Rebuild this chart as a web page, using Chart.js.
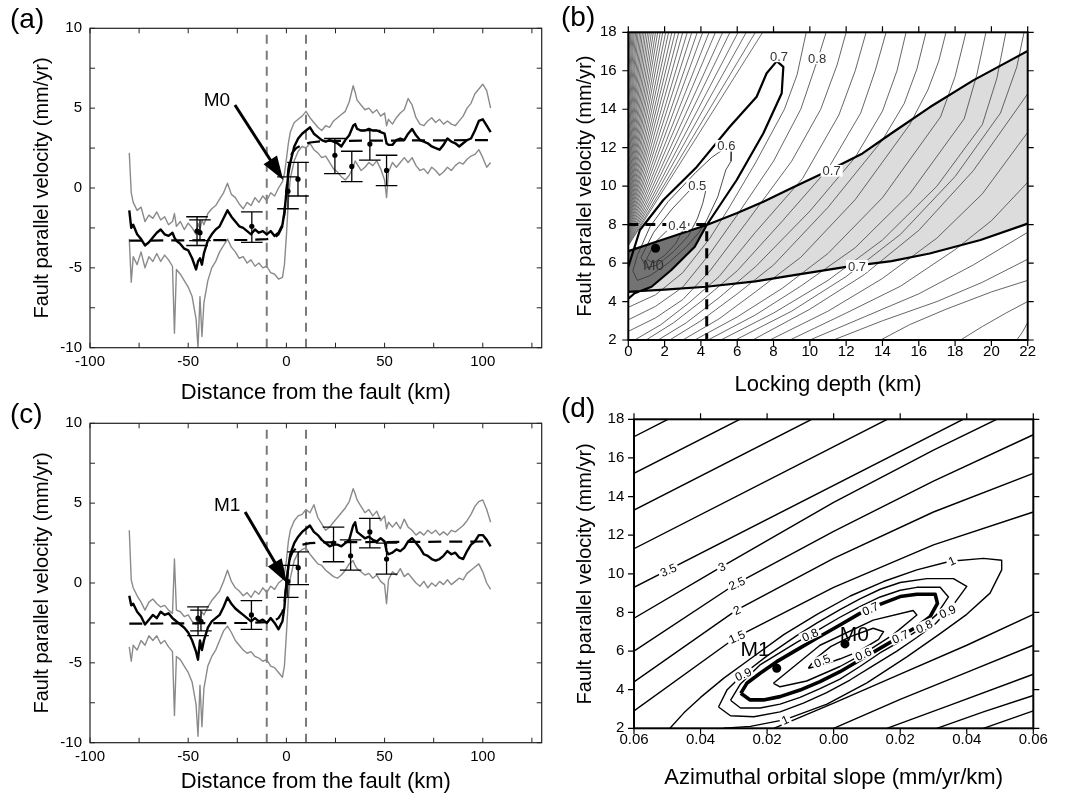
<!DOCTYPE html>
<html>
<head>
<meta charset="utf-8">
<title>Fault parallel velocity profiles and misfit contours</title>
<script src="https://cdn.jsdelivr.net/npm/chart.js@4.4.1/dist/chart.umd.min.js"></script>
<style>
  html,body{margin:0;padding:0;background:#fff;}
  body{position:relative;width:1070px;height:797px;overflow:hidden;font-family:"Liberation Sans",Arial,Helvetica,sans-serif;}
  canvas{position:absolute;display:block;}
  .plab{position:absolute;font-size:28px;line-height:28px;color:#000;white-space:nowrap;}
</style>
</head>
<body>
<canvas id="ca" width="560" height="410" style="left:0px;top:0px"></canvas>
<canvas id="cb" width="530" height="400" style="left:540px;top:0px"></canvas>
<canvas id="cc" width="560" height="402" style="left:0px;top:395px"></canvas>
<canvas id="cd" width="530" height="402" style="left:540px;top:395px"></canvas>
<div class="plab" style="left:10px;top:5px">(a)</div>
<div class="plab" style="left:561px;top:3px">(b)</div>
<div class="plab" style="left:10px;top:400px">(c)</div>
<div class="plab" style="left:561px;top:394px">(d)</div>
<script>
// ======================= DATA =======================
// ---- profiles (a) and (c): distance from fault (km) ----
const profileX = [-80,-79,-78,-76,-74,-72,-70,-68,-66,-64,-62,-60,-58,-57,-56,-54,-52,-50,-48,-46,-45,-44,-43,-42,
  -40,-38,-36,-34,-32,-30,-28,-26,-24,-22,-20,-18,-16,-14,-12,-10,-8,-6,-4,-2,-1,0,1,2,
  4,6,8,10,12,14,16,18,20,22,24,26,28,30,32,34,35,36,38,40,42,44,46,48,50,51,
  52,54,56,58,60,62,64,66,68,70,72,74,76,78,80,82,84,86,88,90,92,94,96,98,100,102,104];

const upperA = [2.2,-0.3,-0.9,-1.4,-1.2,-2.1,-1.7,-1.9,-1.5,-2.0,-1.8,-2.3,-2.1,-1.6,-2.4,-2.1,-2.6,-2.2,-2.5,-2.9,-2.2,-2.6,-2.0,-2.3,
  -1.6,-1.3,-1.1,-0.7,-0.3,0.3,-0.4,-0.6,-1.0,-1.3,-0.9,-1.1,-0.6,-0.9,-0.5,-0.8,-0.3,-0.5,0.0,0.4,0.9,1.8,2.8,3.5,
  4.1,4.3,4.5,4.8,4.4,4.1,3.8,3.6,3.9,3.8,4.2,4.4,4.6,4.8,5.4,6.4,6.0,5.5,5.2,4.9,5.0,4.7,4.9,4.5,4.7,3.9,
  4.3,4.0,4.4,4.7,4.9,5.6,5.2,4.4,4.0,3.9,4.2,4.4,4.1,4.3,4.0,4.2,4.0,3.9,4.2,4.5,5.0,5.3,5.9,6.2,6.5,6.1,5.0];
const lowerA = [-3.2,-5.9,-4.3,-4.8,-4.0,-5.0,-4.3,-4.6,-4.1,-4.6,-4.2,-4.5,-4.9,-9.1,-5.1,-5.4,-5.8,-6.2,-6.8,-8.2,-10.0,-6.8,-9.3,-7.2,
  -5.8,-5.0,-4.6,-4.0,-3.6,-3.2,-3.7,-4.0,-4.4,-4.3,-4.7,-4.5,-4.9,-4.7,-5.0,-4.9,-5.3,-5.4,-5.7,-5.6,-4.8,-3.0,-0.8,0.6,
  1.7,2.3,2.6,2.5,2.8,2.4,2.2,1.9,2.0,1.6,1.2,1.0,0.7,0.5,0.8,1.3,1.7,1.5,1.1,1.3,1.6,1.4,1.7,1.2,0.5,-0.6,
  1.0,1.6,1.3,1.6,1.9,1.6,1.9,1.4,1.1,1.2,0.9,1.3,1.1,0.8,1.0,1.3,1.1,1.4,1.6,1.5,1.8,2.0,2.1,2.4,1.9,1.3,1.6];
const meanA = [-1.4,-2.5,-2.3,-2.9,-3.2,-3.6,-3.4,-3.1,-2.8,-2.6,-2.9,-3.0,-2.8,-3.1,-3.3,-3.5,-3.8,-3.9,-4.4,-5.1,-4.6,-4.4,-4.8,-4.1,
  -3.3,-2.9,-2.6,-2.4,-1.9,-1.4,-1.8,-2.1,-2.4,-2.5,-2.7,-2.9,-2.6,-2.8,-2.7,-2.9,-2.7,-3.0,-2.8,-2.3,-1.5,-0.3,0.9,1.6,
  2.6,3.1,3.4,3.6,3.8,3.4,3.2,3.0,2.9,3.0,2.9,2.8,2.6,3.0,3.3,3.9,4.0,3.7,3.6,3.6,3.7,3.6,3.6,3.5,3.4,2.8,
  2.7,2.7,3.0,3.1,3.0,3.4,3.7,3.3,3.0,2.9,2.8,2.6,2.5,2.4,2.7,3.1,2.9,2.8,2.6,2.8,3.0,3.1,3.6,4.2,4.3,3.9,3.5];

const upperC = [3.3,0.2,-0.3,-0.8,-1.2,-1.7,-1.2,-1.0,-1.3,-1.5,-1.4,-1.7,-1.9,1.5,-1.7,-1.8,-2.1,-2.0,-2.4,-2.6,-2.1,-2.4,-1.8,-2.0,
  -1.5,-1.1,-0.8,-0.5,0.1,0.8,0.1,-0.3,-0.5,-0.8,-0.6,-0.9,-0.5,-0.7,-0.3,-0.6,-0.2,-0.4,0.0,0.2,0.6,1.4,2.6,3.3,
  3.9,4.2,4.3,4.6,4.4,4.9,4.1,3.7,3.3,3.5,3.8,4.1,4.4,4.7,5.1,5.9,5.6,5.2,4.8,4.4,4.6,4.2,4.5,3.9,4.2,3.4,
  3.8,3.5,3.8,3.4,4.0,3.5,3.3,3.0,3.2,3.0,3.3,3.1,3.3,3.0,3.2,3.0,3.3,3.2,3.4,3.6,3.9,4.3,4.8,5.1,5.2,4.6,3.8];
const lowerC = [-4.0,-4.9,-3.9,-4.2,-3.6,-3.9,-3.3,-3.6,-3.3,-3.8,-3.6,-4.0,-4.3,-8.3,-4.6,-4.8,-5.2,-5.6,-6.2,-7.6,-9.6,-6.4,-9.0,-6.6,
  -5.2,-4.6,-4.2,-3.6,-3.0,-2.7,-3.1,-3.6,-3.9,-4.2,-4.4,-4.3,-4.6,-4.7,-4.9,-4.8,-5.2,-5.3,-5.6,-5.9,-5.2,-3.2,-1.0,0.3,
  1.4,1.9,2.1,2.2,1.8,1.5,1.2,1.1,0.8,0.6,0.4,0.3,0.5,0.8,1.2,1.4,1.1,0.9,0.7,0.5,0.6,0.3,0.5,0.1,-0.1,-1.3,
  0.2,0.7,0.5,0.9,0.4,0.6,0.3,0.0,-0.2,0.1,-0.3,0.0,-0.2,0.1,-0.1,0.2,-0.1,0.1,0.3,0.2,0.6,0.8,1.0,1.2,0.7,0.0,-0.4];
const meanC = [-0.8,-1.4,-1.3,-1.8,-2.1,-2.6,-2.3,-2.0,-2.2,-1.8,-2.0,-1.9,-2.2,-2.3,-2.4,-2.6,-2.8,-3.1,-3.6,-4.3,-4.8,-3.6,-4.2,-3.6,
  -2.8,-2.4,-2.2,-2.0,-1.5,-0.9,-1.3,-1.6,-1.8,-2.0,-2.2,-2.4,-2.2,-2.4,-2.3,-2.5,-2.2,-2.5,-2.9,-2.4,-1.5,0.0,1.0,1.8,
  2.5,2.9,3.2,3.4,3.6,3.2,3.0,2.7,2.5,2.3,2.4,2.4,2.3,2.5,2.7,3.6,3.8,3.2,3.0,2.8,2.9,2.7,2.6,2.8,2.6,2.0,
  1.8,1.9,2.1,2.0,2.2,2.6,2.8,2.5,2.2,1.8,1.7,1.5,1.4,1.5,1.7,2.0,1.8,1.9,1.6,1.5,2.0,2.4,2.6,3.0,3.0,2.7,2.3];

// model curves (dashed)
const modelX = [-80,-20,-10,-6,-4,-2,-1,0,1,2,3,5,8,12,20,104];
const modelA = [-3.3,-3.25,-3.2,-3.1,-2.9,-2.4,-1.6,-0.2,1.2,1.9,2.2,2.5,2.7,2.85,2.95,3.0];
const modelC = [-2.55,-2.5,-2.45,-2.35,-2.2,-1.8,-1.2,0.0,1.1,1.6,1.9,2.2,2.4,2.5,2.55,2.6];

// GPS station values with error bars
const gpsXA  = [-45.5,-44,-17.6,0.8,5.9,24.7,33.3,42.5,51];
const gpsVA  = [-2.7,-2.8,-2.4,-0.2,0.55,2.05,1.35,2.75,1.1];
const gpsLoA = [-3.6,-3.3,-3.4,-1.3,-0.5,0.9,0.4,1.75,0.15];
const gpsHiA = [-1.8,-2.0,-1.5,0.7,1.6,3.1,2.3,3.6,2.05];
const gpsXC  = [-45,-43.5,-17.8,0.7,6,24,32.7,42.5,51];
const gpsVC  = [-2.2,-2.4,-2.0,0.1,0.96,2.5,1.7,3.2,1.5];
const gpsLoC = [-3.3,-3.0,-2.9,-0.9,-0.1,1.33,0.8,2.2,0.55];
const gpsHiC = [-1.5,-1.7,-1.1,1.1,1.95,3.5,2.7,4.05,2.5];

const faultZone = [-10, 10];
const arrowA = [-26.2, 5.2, -1.6, 0.5];
const arrowC = [-21.0, 4.45, 0.3, 0.0];

// ---- (b) locking depth (km) vs fault parallel velocity (mm/yr) ----
const bBoundUpper = [[0,6.62],[2,7.25],[4.32,7.98],[6,8.6],[7.44,9.19],[9,9.9],[11.1,10.84],[12.9,11.7],[14.5,12.75],[16.6,14.1],[19,15.5],[22,17.03]];
const bBoundLower = [[0,4.51],[2,4.62],[4.3,4.77],[7,5.05],[9.3,5.4],[12,5.8],[14.5,6.1],[16.6,6.5],[19.4,7.2],[22,8.05]];
const bLoop07 = [[0,5.8],[0.64,7.72],[1.93,9.28],[3.77,11.0],[5.6,13.1],[7.07,14.65],[7.62,15.87],[8.18,16.5],[8.54,16.2],[8.45,14.83],
  [7.44,12.75],[5.97,10.32],[4.87,8.76],[4.32,7.98],[3.66,6.85],[2.37,5.64],[1.28,4.77],[0.35,4.43],[0,4.15]];
const bLoop06 = [[0.5,6.4],[1.2,7.9],[2.2,9.2],[3.7,10.7],[4.6,11.5],[5.3,11.95],[5.7,11.9],[5.66,11.3],[5.37,10.84],[4.93,9.45],[4.3,8.2],
  [3.9,7.6],[3.2,6.85],[2.2,6.0],[1.2,5.35],[0.5,5.1],[0.25,5.6],[0.5,6.4]];
const bLoop05 = [[0.7,6.3],[1.4,7.6],[2.4,8.8],[3.4,9.8],[4.1,10.2],[4.3,9.9],[4.1,9.1],[3.8,8.3],[3.3,7.4],[2.5,6.6],[1.6,5.9],[1.0,5.75],[0.7,6.3]];
const bLoop04 = [[1.0,6.2],[1.5,7.1],[2.2,7.75],[2.9,8.05],[3.0,7.7],[2.6,7.0],[2.0,6.4],[1.4,6.0],[1.0,6.2]];
const bContours = [
  [[0,3.7],[1.5,4.35],[3.0,5.5],[4.5,7.3],[5.5,8.8],[7.0,11.2],[8.6,14.0],[9.3,15.8],[9.8,18]],
  [[0,3.05],[1.5,3.75],[3.0,4.75],[4.5,6.5],[6.0,8.5],[8.0,11.3],[9.5,14.0],[10.4,16.5],[10.9,18]],
  [[0,2.45],[1.5,3.15],[3.0,4.1],[4.5,5.6],[6.5,8.1],[9.0,11.3],[10.6,14.0],[11.5,16.3],[12.0,18]],
  [[0.35,2],[1.8,2.8],[3.3,3.9],[5.0,5.3],[7.0,7.6],[9.6,10.4],[11.6,13.7],[12.5,16.0],[13.1,18]],
  [[0.98,2],[2.5,2.9],[4.0,4.0],[6.0,5.6],[8.5,8.2],[11.0,10.9],[12.8,13.8],[13.6,16.0],[14.2,18]],
  [[1.64,2],[3.2,2.9],[5.0,4.2],[7.0,5.8],[10.0,8.7],[12.5,11.5],[14.0,13.9],[14.8,16.0],[15.3,18]],
  [[2.28,2],[4.0,3.0],[6.0,4.4],[8.0,5.9],[11.0,8.9],[14.0,12.4],[15.2,14.3],[15.9,16.1],[16.4,18]],
  [[3.0,2],[5.0,3.1],[7.0,4.5],[9.5,6.3],[12.5,9.3],[15.5,13.2],[16.5,15.0],[17.1,16.5],[17.5,18]],
  [[3.66,2],[6.0,3.2],[8.5,4.7],[11.0,6.5],[14.0,9.4],[17.2,13.6],[18.0,15.7],[18.6,18]],
  [[4.39,2],[7.0,3.3],[9.5,4.8],[12.5,6.8],[15.5,9.6],[18.5,13.5],[19.2,15.8],[19.7,18]],
  [[5.1,2],[8.0,3.4],[11.0,5.1],[14.0,7.2],[17.0,10.0],[19.5,13.2],[20.3,15.6],[20.8,18]],
  [[5.9,2],[9.0,3.5],[12.0,5.3],[15.0,7.5],[18.0,10.5],[20.5,13.8],[21.4,16.2],[21.8,18]],
  [[6.85,2],[10,3.6],[13,5.4],[16,7.7],[19,10.8],[22,14.8]],
  [[7.8,2],[11,3.5],[14,5.2],[17,7.3],[19.5,9.6],[22,12.8]],
  [[8.9,2],[12,3.4],[15,4.8],[18,6.7],[20,8.2],[22,10.2]],
  [[10,2],[13,3.2],[16,4.4],[19,5.9],[22,7.6]],
  [[11.3,2],[14,3.0],[17,4.0],[19.5,5.0],[22,6.2]],
  [[13.9,2],[15.5,2.8],[17.5,3.6],[20,4.5],[22,5.1]],
  [[18.3,2],[19.5,2.7],[20.8,3.4],[22,4.0]],
  [[21.4,2],[21.7,2.4],[22,2.9]]
];
// steep contours in the upper-left corner: crossing of the top edge (km) and of the left edge (mm/yr)
const bFanTop  = [7.4,7.0,6.5,6.05,5.6,5.2,4.8,4.45,4.1,3.8,3.5,3.25,3.0,2.78,2.58,2.4,2.22,2.06,1.9,1.76,
  1.62,1.5,1.38,1.27,1.16,1.06,0.96,0.87,0.78,0.7,0.62,0.54,0.47,0.4,0.33,0.27,0.21,0.15,0.1,0.05];
const bFanLeft = [6.9,6.94,7.0,7.05,7.12,7.19,7.27,7.35,7.44,7.53,7.63,7.73,7.84,7.96,8.07,8.19,8.33,8.46,8.62,8.77,
  8.94,9.11,9.3,9.5,9.72,9.95,10.21,10.47,10.78,11.09,11.44,11.85,12.26,12.73,13.29,13.84,14.5,15.27,16.03,16.92];
const bLimit = [4.32, 8.0];      // locking depth, velocity limits (dashed)
const bBest  = [1.5, 6.77];      // M0
const bLabels = [['0.7',8.3,16.75],['0.8',10.4,16.65],['0.6',5.4,12.1],['0.5',3.8,10.05],['0.4',2.7,7.98],['0.7',11.2,10.8],['0.7',12.6,5.85]];

// ---- (d) azimuthal orbital slope (mm/yr/km) vs fault parallel velocity ----
const dOuter = [
  [[-0.06,2.9],[-0.0291,6.74],[0.0,9.3],[0.03,11.5],[0.06,13.2]],
  [[-0.06,4.4],[-0.0291,8.13],[0.0,10.8],[0.03,13.2],[0.06,15.2]],
  [[-0.06,6.0],[-0.0291,9.51],[0.0,12.2],[0.03,14.8],[0.06,17.2]],
  [[-0.06,7.7],[-0.0336,10.37],[0.0,13.7],[0.03,16.4],[0.049,18]],
  [[-0.06,9.3],[0.0389,18]],
  [[-0.06,11.3],[0.0161,18]],
  [[-0.06,13.3],[-0.0066,18]],
  [[-0.06,15.2],[-0.0282,18]],
  [[-0.06,17.1],[-0.0498,18]],
  [[-0.018,2],[0.0,3.3],[0.02,4.8],[0.04,6.3],[0.06,7.9]],
  [[0.0,2],[0.02,3.5],[0.04,4.9],[0.06,6.3]],
  [[0.016,2],[0.035,3.2],[0.06,4.8]],
  [[0.031,2],[0.045,2.85],[0.06,3.7]],
  [[0.045,2],[0.06,2.9]]
];
const dLoop10 = [[-0.0492,2.0],[-0.045,2.8],[-0.04,3.6],[-0.033,4.6],[-0.025,5.6],[-0.015,6.85],[-0.005,7.9],[0.005,8.85],[0.015,9.6],
  [0.025,10.2],[0.035,10.65],[0.045,10.8],[0.0505,10.7],[0.0505,10.2],[0.047,9.0],[0.04,7.9],[0.032,6.9],[0.022,5.7],[0.01,4.35],
  [-0.002,3.25],[-0.0146,2.45],[-0.025,2.1],[-0.033,2.0]];
const dLoop09 = [[-0.0346,3.1],[-0.032,4.0],[-0.0272,4.8],[-0.02,5.75],[-0.0111,6.8],[-0.0051,7.45],[0.0019,8.15],[0.0079,8.7],[0.014,9.2],
  [0.02,9.55],[0.028,9.75],[0.036,9.75],[0.04,9.35],[0.036,8.4],[0.0305,7.4],[0.025,6.7],[0.019,6.0],[0.0119,5.25],[0.0049,4.5],
  [-0.0021,3.85],[-0.0091,3.3],[-0.0161,2.85],[-0.024,2.6],[-0.031,2.65],[-0.0346,3.1]];
const dLoop08 = [[-0.031,3.45],[-0.028,4.3],[-0.022,5.3],[-0.0111,6.45],[-0.0051,7.05],[0.0019,7.75],[0.0079,8.3],[0.014,8.8],[0.02,9.15],
  [0.025,9.3],[0.032,9.3],[0.0345,8.8],[0.031,7.9],[0.0265,7.2],[0.02,6.5],[0.0139,5.9],[0.0079,5.2],[0.0019,4.55],[-0.0041,4.05],
  [-0.0101,3.6],[-0.0161,3.25],[-0.0221,3.05],[-0.028,3.05],[-0.031,3.45]];
const dLoop07 = [[-0.0279,3.81],[-0.0261,4.33],[-0.0221,4.85],[-0.0171,5.45],[-0.0111,6.06],[-0.0051,6.66],[0.0019,7.35],[0.0079,7.95],
  [0.0139,8.42],[0.02,8.82],[0.025,8.94],[0.0305,8.94],[0.0312,8.47],[0.029,7.78],[0.025,7.26],[0.02,6.75],[0.0139,6.14],[0.0079,5.54],
  [0.0019,4.93],[-0.0041,4.42],[-0.0101,3.98],[-0.0161,3.64],[-0.0211,3.47],[-0.0251,3.47],[-0.0279,3.81]];
const dLoop06 = [[-0.0181,4.33],[-0.0041,6.3],[0.0119,7.6],[0.0239,8.1],[0.025,7.87],[0.0179,6.85],[0.0089,5.85],[0.0019,5.2],[-0.0081,4.45],[-0.0161,4.15],[-0.0181,4.33]];
const dLoop05 = [[-0.0076,5.11],[-0.0055,5.6],[-0.0009,6.23],[0.005,6.75],[0.0119,7.18],[0.015,7.0],[0.0135,6.6],[0.0077,6.0],[0.002,5.6],[-0.003,5.3],[-0.0076,5.11]];
const dModels = [['M0',0.0034,6.37],['M1',-0.0171,5.11]];
const dModelLabels = [['M0',0.0062,6.85],['M1',-0.0236,6.1]];
const dLabels = [['3.5',-0.0497,10.2],['3',-0.0336,10.37],['2.5',-0.0291,9.51],['2',-0.0291,8.13],['1.5',-0.0291,6.74],
  ['1',0.0355,10.68],['1',-0.0146,2.45],['0.9',-0.0272,4.8],['0.8',-0.0071,6.85],['0.7',0.011,8.2],
  ['0.7',0.0200,6.75],['0.8',0.0272,7.28],['0.9',0.0342,8.05],['0.6',0.0089,5.85],['0.5',-0.0035,5.5]];

// ======================= HELPERS =======================
const FONT = '"Liberation Sans", Arial, Helvetica, sans-serif';
const CAP = 5.5; // half width of error-bar caps (km)
const xy = (xs, ys) => xs.map((x, i) => ({x, y: ys[i]}));
const poly = pts => pts.map(p => ({x: p[0], y: p[1]}));
function multi(lines) {
  const out = [];
  lines.forEach((ln, i) => {
    if (i) out.push({x: ln[0][0], y: null});
    ln.forEach(p => out.push({x: p[0], y: p[1]}));
  });
  return out;
}
function errBars(xs, lo, hi) {
  const out = [];
  xs.forEach((x, i) => {
    out.push({x, y: lo[i]}, {x, y: hi[i]}, {x, y: null},
             {x: x - CAP, y: hi[i]}, {x: x + CAP, y: hi[i]}, {x, y: null},
             {x: x - CAP, y: lo[i]}, {x: x + CAP, y: lo[i]}, {x, y: null});
  });
  return out;
}
function line(data, color, width, extra) {
  return Object.assign({data, showLine: true, borderColor: color, borderWidth: width, pointRadius: 0,
    pointHoverRadius: 0, fill: false, borderJoinStyle: 'round', spanGaps: false}, extra || {});
}
function dots(data, r) {
  return {data, showLine: false, pointRadius: r, pointHoverRadius: r, pointBackgroundColor: '#000', pointBorderColor: '#000', pointBorderWidth: 0};
}
function scale(o) {
  return {
    type: 'linear', position: o.pos, min: o.min, max: o.max,
    grid: {display: false, drawTicks: false}, border: {display: false},
    ticks: {stepSize: o.step, includeBounds: false, autoSkip: false, maxRotation: 0, minRotation: 0,
      padding: o.pad, color: '#000', font: {family: FONT, size: o.fs}, callback: o.cb},
    title: {display: true, text: o.title, color: '#000', font: {family: FONT, size: o.tfs}, padding: o.tpad},
    afterFit: s => { if (o.w !== undefined) s.width = o.w; if (o.h !== undefined) s.height = o.h; }
  };
}
function makeDecor(cfg) {
  return {
    id: 'decor',
    afterDatasetsDraw(chart) {
      const ctx = chart.ctx, xs = chart.scales.x, ys = chart.scales.y;
      ctx.save();
      (cfg.arrows || []).forEach(ar => {
        const x0 = xs.getPixelForValue(ar[0]), y0 = ys.getPixelForValue(ar[1]);
        const x1 = xs.getPixelForValue(ar[2]), y1 = ys.getPixelForValue(ar[3]);
        const ang = Math.atan2(y1 - y0, x1 - x0), hl = 24, hw = 8;
        const bx = x1 - hl * Math.cos(ang), by = y1 - hl * Math.sin(ang);
        ctx.strokeStyle = '#000'; ctx.lineWidth = 3;
        ctx.beginPath(); ctx.moveTo(x0, y0); ctx.lineTo(bx + 2 * Math.cos(ang), by + 2 * Math.sin(ang)); ctx.stroke();
        ctx.fillStyle = '#000'; ctx.beginPath(); ctx.moveTo(x1, y1);
        ctx.lineTo(bx + hw * Math.sin(ang), by - hw * Math.cos(ang));
        ctx.lineTo(bx - hw * Math.sin(ang), by + hw * Math.cos(ang));
        ctx.closePath(); ctx.fill();
      });
      (cfg.texts || []).forEach(t => {
        const px = xs.getPixelForValue(t.x), py = ys.getPixelForValue(t.y), fs = t.size || 12;
        ctx.save();
        ctx.translate(px, py);
        if (t.rot) ctx.rotate(t.rot * Math.PI / 180);
        ctx.font = fs + 'px ' + FONT; ctx.textAlign = 'center'; ctx.textBaseline = 'middle';
        if (t.bg) {
          const w = ctx.measureText(t.text).width;
          ctx.fillStyle = t.bg; ctx.fillRect(-w / 2 - 2, -fs * 0.45, w + 4, fs * 0.9);
        }
        ctx.fillStyle = t.color || '#000';
        ctx.fillText(t.text, 0, 1);
        ctx.restore();
      });
      ctx.restore();
    },
    afterDraw(chart) {
      const ctx = chart.ctx, a = chart.chartArea, xs = chart.scales.x, ys = chart.scales.y;
      ctx.save();
      ctx.lineWidth = cfg.frameW; ctx.strokeStyle = cfg.frameC;
      ctx.strokeRect(a.left, a.top, a.right - a.left, a.bottom - a.top);
      const s = cfg.tickDir === 'in' ? 1 : -1, L = cfg.tickLen;
      ctx.lineWidth = cfg.tickW; ctx.beginPath();
      const nx = Math.floor((xs.max - xs.min) / cfg.xStep + 1e-6);
      for (let i = 0; i <= nx; i++) {
        const p = xs.getPixelForValue(xs.min + i * cfg.xStep);
        ctx.moveTo(p, a.bottom); ctx.lineTo(p, a.bottom - s * L);
        ctx.moveTo(p, a.top); ctx.lineTo(p, a.top + s * L);
      }
      const ny = Math.floor((ys.max - ys.min) / cfg.yStep + 1e-6);
      for (let i = 0; i <= ny; i++) {
        const p = ys.getPixelForValue(ys.min + i * cfg.yStep);
        ctx.moveTo(a.left, p); ctx.lineTo(a.left + s * L, p);
        ctx.moveTo(a.right, p); ctx.lineTo(a.right - s * L, p);
      }
      ctx.stroke();
      ctx.restore();
    }
  };
}
function makeChart(id, cfg) {
  return new Chart(document.getElementById(id), {
    type: 'scatter',
    data: {datasets: cfg.datasets},
    options: {
      responsive: false, animation: false, events: [],
      layout: {padding: cfg.pad},
      plugins: {legend: {display: false}, tooltip: {enabled: false}},
      scales: {x: cfg.x, y: cfg.y}
    },
    plugins: [makeDecor(cfg.decor)]
  });
}

// ======================= PROFILE PANELS =======================
function profileChart(id, up, lo, mean, model, gx, gv, glo, ghi, arrow, label, lpos, h, xpad, xtpad) {
  const vlines = [];
  faultZone.forEach((f, i) => {
    if (i) vlines.push({x: f, y: null});
    vlines.push({x: f, y: -10}, {x: f, y: 10});
  });
  return makeChart(id, {
    pad: {left: 0, top: 28.3, right: 18.3, bottom: 0},
    datasets: [
      dots(xy(gx, gv), 2.6),
      line(errBars(gx, glo, ghi), '#000', 1.3),
      line(xy(modelX, model), '#000', 2.2, {borderDash: [13, 8]}),
      line(xy(profileX, mean), '#000', 2.4),
      line(xy(profileX, up), '#8a8a8a', 1.4),
      line(xy(profileX, lo), '#8a8a8a', 1.4),
      line(vlines, '#7a7a7a', 2, {borderDash: [9, 7]})
    ],
    x: scale({pos: 'bottom', min: -100, max: 130, step: 25, pad: xpad, fs: 15, h: h - 347.7,
      cb: v => (v % 50 === 0 && v <= 100) ? String(v) : '',
      title: 'Distance from the fault (km)', tfs: 22, tpad: {top: 0, bottom: xtpad}}),
    y: scale({pos: 'left', min: -10, max: 10, step: 2.5, pad: 8, fs: 15, w: 90,
      cb: v => (v % 5 === 0) ? String(v) : '',
      title: 'Fault parallel velocity (mm/yr)', tfs: 20, tpad: {top: 30, bottom: 0}}),
    decor: {frameW: 1.2, frameC: '#222', tickDir: 'in', tickLen: 5, tickW: 1, xStep: 25, yStep: 2.5,
      arrows: [arrow], texts: [{text: label, x: lpos[0], y: lpos[1], size: 19}]}
  });
}
profileChart('ca', upperA, lowerA, meanA, modelA, gpsXA, gpsVA, gpsLoA, gpsHiA, arrowA, 'M0', [-35.4, 5.5], 410, 5.5, 3.8);
profileChart('cc', upperC, lowerC, meanC, modelC, gpsXC, gpsVC, gpsLoC, gpsHiC, arrowC, 'M1', [-30.2, 4.9], 402, 5.1, 2.1);

// ======================= PANEL (b) =======================
(function () {
  const light = bBoundUpper.slice(2).concat(bBoundLower.slice().reverse());
  const dark = [[0, bBoundLower[0][1] - 0.06]].concat(bBoundUpper.slice(0, 3)).concat(bLoop07.slice(14, 18));
  const fan = bFanTop.map((xt, i) => [[0, bFanLeft[i]], [xt, 18]]);
  const limits = [{x: 0, y: bLimit[1]}, {x: bLimit[0], y: bLimit[1]}, {x: bLimit[0], y: 2}];
  makeChart('cb', {
    pad: {left: 0, top: 32.3, right: 42.3, bottom: 0},
    datasets: [
      dots([{x: bBest[0], y: bBest[1]}], 4.5),
      line(limits, '#000', 3, {borderDash: [10, 7]}),
      line(multi([bBoundUpper, bBoundLower, bLoop07]), '#000', 2.2),
      line(multi([bLoop06, bLoop05, bLoop04]), '#3a3a3a', 0.9),
      line(multi(bContours), '#555', 0.9),
      line(multi(fan), '#555', 0.85),
      line(poly(dark), 'rgba(0,0,0,0)', 0, {fill: 'shape', backgroundColor: '#737373'}),
      line(poly(light), 'rgba(0,0,0,0)', 0, {fill: 'shape', backgroundColor: '#dcdcdc'})
    ],
    x: scale({pos: 'bottom', min: 0, max: 22, step: 2, pad: 3, fs: 15, h: 60,
      title: 'Locking depth (km)', tfs: 22, tpad: {top: 0, bottom: 1.8}}),
    y: scale({pos: 'left', min: 2, max: 18, step: 2, pad: 11.6, fs: 15, w: 88.3,
      title: 'Fault parallel velocity (mm/yr)', tfs: 20, tpad: {top: 33, bottom: 0}}),
    decor: {frameW: 2, frameC: '#000', tickDir: 'out', tickLen: 6, tickW: 1.2, xStep: 2, yStep: 2,
      texts: bLabels.map(l => ({text: l[0], x: l[1], y: l[2], size: 13, color: '#333', bg: '#fff'}))
        .concat([{text: 'M0', x: 1.38, y: 5.9, size: 15, color: '#333'}])}
  });
})();

// ======================= PANEL (d) =======================
(function () {
  makeChart('cd', {
    pad: {left: 0, top: 24.3, right: 36.7, bottom: 0},
    datasets: [
      dots(dModels.map(m => ({x: m[1], y: m[2]})), 4.5),
      line(poly(dLoop07), '#000', 3.6),
      line(multi(dOuter.concat([dLoop10, dLoop09, dLoop08, dLoop06, dLoop05])), '#000', 1.4)
    ],
    x: scale({pos: 'bottom', min: -0.06, max: 0.06, step: 0.02, pad: 2.7, fs: 15, h: 68.7,
      cb: v => Math.abs(v).toFixed(2),
      title: 'Azimuthal orbital slope (mm/yr/km)', tfs: 22, tpad: {top: 0, bottom: 5.5}}),
    y: scale({pos: 'left', min: 2, max: 18, step: 2, pad: 9.7, fs: 15, w: 94,
      title: 'Fault parallel velocity (mm/yr)', tfs: 20, tpad: {top: 33, bottom: 0}}),
    decor: {frameW: 2, frameC: '#000', tickDir: 'out', tickLen: 6, tickW: 1.2, xStep: 0.02, yStep: 2,
      texts: dLabels.map(l => ({text: l[0], x: l[1], y: l[2], size: 12, color: '#000', bg: '#fff', rot: -24}))
        .concat(dModelLabels.map(l => ({text: l[0], x: l[1], y: l[2], size: 21, color: '#000'})))}
  });
})();
</script>
</body>
</html>
